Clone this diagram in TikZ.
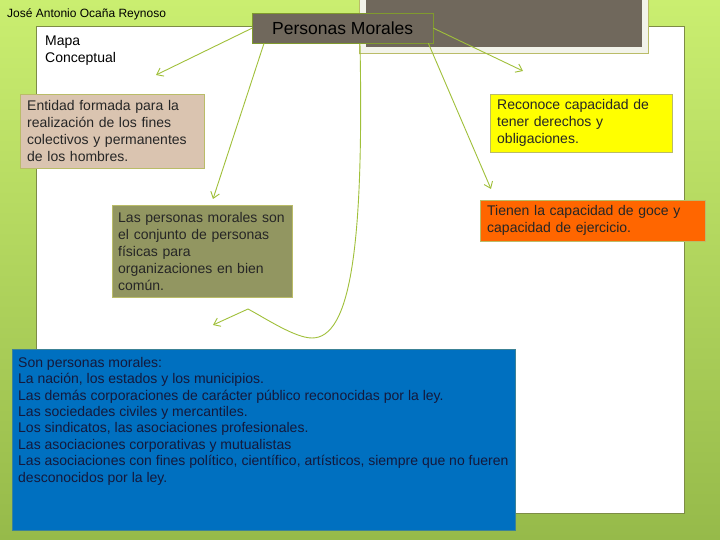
\documentclass[tikz,border=0pt]{standalone}
\usepackage{fontspec}
\setmainfont{Liberation Sans}
\usepackage{tikz}
\usetikzlibrary{arrows.meta,positioning}
\usepackage{xcolor}

\definecolor{bgtop}{RGB}{202,238,112}
\definecolor{bgbottom}{RGB}{150,186,74}
\definecolor{paneledge}{RGB}{125,140,70}
\definecolor{linkgreen}{RGB}{160,192,58}
\definecolor{boxedge}{RGB}{186,188,104}
\definecolor{taupe}{RGB}{112,104,92}
\definecolor{frameoff}{RGB}{242,243,234}
\definecolor{tan}{RGB}{218,196,176}
\definecolor{olivebox}{RGB}{146,150,97}
\definecolor{yellowbox}{RGB}{255,255,0}
\definecolor{orangebox}{RGB}{255,102,0}
\definecolor{bluebox}{RGB}{0,112,192}
\definecolor{blueedge}{RGB}{60,130,150}
\definecolor{navytext}{RGB}{20,25,60}

\begin{document}
\begin{tikzpicture}[
    x=1pt, y=-1pt,
    concept/.style={draw=boxedge, anchor=north west, align=left, inner xsep=7pt, inner ysep=0pt,
      font=\fontsize{14}{17}\selectfont, text=black!85},
    link/.style={->, draw=linkgreen, line width=0.9pt},
    >={Straight Barb[length=6pt,width=9pt]}
  ]
  \useasboundingbox (0,0) rectangle (720,540);
  \shade[top color=bgtop, bottom color=bgbottom] (0,0) rectangle (720,540);
  \draw[paneledge, line width=0.8pt, fill=white] (36,26) rectangle (684,513);
  \filldraw[fill=frameoff, draw=boxedge] (359,-1) rectangle (648,53);
  \fill[taupe] (366,0) rectangle (642,47);

  \node[anchor=west, inner sep=0pt, font=\fontsize{12}{14}\selectfont] (autor) at (7,14) {José Antonio Ocaña Reynoso};
  \node[anchor=north west, align=left, inner sep=0pt, font=\fontsize{14}{17}\selectfont] (mapa) at (45,36) {Mapa\\Conceptual};

  \node[draw=linkgreen!80!black, fill=taupe, anchor=north west, minimum width=181pt, minimum height=30pt,
    inner sep=0pt, font=\fontsize{17.5}{20}\selectfont] (pm) at (252,13) {Personas Morales};

  \node[concept, fill=tan, text width=170pt, minimum height=74pt] (entidad) at (20,94) {
    Entidad formada para la\\
    realización de los fines\\
    colectivos y permanentes\\
    de los hombres.};
  \node[concept, fill=olivebox, inner xsep=6pt, text width=168pt, minimum height=92pt] (conjunto) at (112,205) {
    Las personas morales son\\
    el conjunto de personas\\
    físicas para\\
    organizaciones en bien\\
    común.};
  \node[concept, fill=yellowbox, text width=168pt, minimum height=58pt] (reconoce) at (490,94) {
    Reconoce capacidad de\\
    tener derechos y\\
    obligaciones.};
  \node[concept, fill=orangebox, text width=211pt, minimum height=41pt] (tienen) at (480,200) {
    Tienen la capacidad de goce y\\
    capacidad de ejercicio.};
  \node[draw=blueedge, fill=bluebox, anchor=north west, inner xsep=6pt, inner ysep=8pt, text=navytext] (lista) at (12,349) {%
    \begin{minipage}[t][165pt][t]{491pt}\fontsize{14}{16.4}\selectfont\raggedright
      Son personas morales:\\
      La nación, los estados y los municipios.\\
      Las demás corporaciones de carácter público reconocidas por la ley.\\
      Las sociedades civiles y mercantiles.\\
      Los sindicatos, las asociaciones profesionales.\\
      Las asociaciones corporativas y mutualistas\\
      Las asociaciones con fines político, científico, artísticos, siempre que no fueren\\
      desconocidos por la ley.
    \end{minipage}};

  % free ends of the links
  \coordinate (toEntidad) at (156,75);
  \coordinate (toConjunto) at (213,199);
  \coordinate (toReconoce) at (523,71);
  \coordinate (toTienen) at (491,189);
  \coordinate (codo) at (248,309);
  \coordinate (toLista) at (213,325);

  \draw[link] (pm.west) -- (toEntidad);
  \draw[link] ([xshift=12pt]pm.south west) -- (toConjunto);
  \draw[link] (pm.east) -- (toReconoce);
  \draw[link] ([xshift=-5pt]pm.south east) -- (toTienen);
  \draw[link] ([xshift=108pt]pm.south west) .. controls (364,250) and (350,338) .. (312,338)
    .. controls (295,338) and (265,318) .. (codo) -- (toLista);
\end{tikzpicture}
\end{document}
